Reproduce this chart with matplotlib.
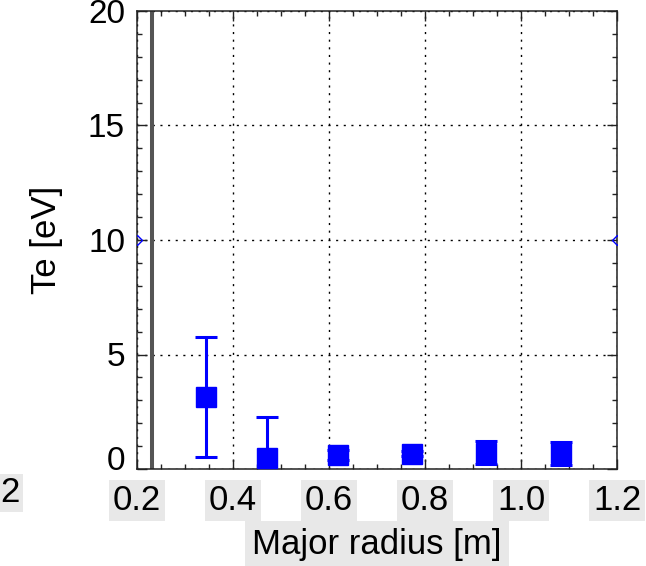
import matplotlib
matplotlib.use("Agg")
import matplotlib.pyplot as plt
from matplotlib.ticker import MultipleLocator
from matplotlib.transforms import ScaledTranslation

plt.rcParams['font.family'] = ['Liberation Sans', 'DejaVu Sans']

# ---- data ----
radius = [0.343, 0.470, 0.619, 0.772, 0.927, 1.083]
te = [3.15, 0.46, 0.62, 0.67, 0.72, 0.69]
te_err = [2.63, 1.83, 0.22, 0.12, 0.50, 0.50]
edge_x = [0.2, 1.2]
edge_y = [10, 10]
separatrix_r = 0.2306
xticks = [0.2, 0.4, 0.6, 0.8, 1.0, 1.2]
xticklabels = ['0.2', '0.4', '0.6', '0.8', '1.0', '1.2']
yticks = [0, 5, 10, 15, 20]
yticklabels = ['0', '5', '10', '15', '20']

W, H = 646, 566
fig = plt.figure(figsize=(W / 100, H / 100), dpi=100)
ax = fig.add_axes([137 / W, 97 / H, 480 / W, 458 / H])

ax.set_xlim(0.2, 1.2)
ax.set_ylim(0, 20)

ax.axvline(separatrix_r, color='#555555', lw=2.9, zorder=2)

ax.errorbar(radius, te, yerr=te_err, fmt='s', color='#0000ff', ms=14.8,
            mec='#0000ff', capsize=7.9, elinewidth=2.2, capthick=2.2,
            zorder=3)

ax.plot(edge_x, edge_y, 'D', ms=5, mfc='none', mec='#0000ff', mew=1.0,
        zorder=4)

ax.set_xticks(xticks)
ax.set_xticklabels(xticklabels)
ax.set_yticks(yticks)
ax.set_yticklabels(yticklabels)
ax.xaxis.set_minor_locator(MultipleLocator(0.05))
ax.yaxis.set_minor_locator(MultipleLocator(1))

ax.grid(True, which='major', color='black', linestyle=(0, (1.5, 4)),
        linewidth=1.0)
ax.tick_params(which='both', direction='in', top=True, right=True,
               color='#222222', width=1.0)
ax.tick_params(which='major', length=7)
ax.tick_params(which='minor', length=3.6)
ax.tick_params(axis='x', labelsize=25, pad=10.8)
ax.tick_params(axis='y', labelsize=24, pad=8.6)
for s in ax.spines.values():
    s.set_linewidth(1.1)
    s.set_color('#222222')

for lab in ax.get_xticklabels():
    lab.set_bbox(dict(facecolor='#e8e8e8', edgecolor='none', pad=3))

# the "0" label on y sits slightly above its tick
ylab0 = ax.yaxis.get_major_ticks()[0].label1
ylab0.set_transform(ylab0.get_transform() +
                    ScaledTranslation(0, 11 / 100, fig.dpi_scale_trans))

ax.set_xlabel('Major radius [m]', fontsize=25, labelpad=8,
              bbox=dict(facecolor='#e8e8e8', edgecolor='none', pad=5))
ax.set_ylabel('Te [eV]', fontsize=25, labelpad=18)

fig.text(20 / W, 1 - 493 / H, '2', ha='right', va='center', fontsize=25,
         bbox=dict(facecolor='#e8e8e8', edgecolor='none', pad=2))

fig.savefig('out.png', dpi=100)
